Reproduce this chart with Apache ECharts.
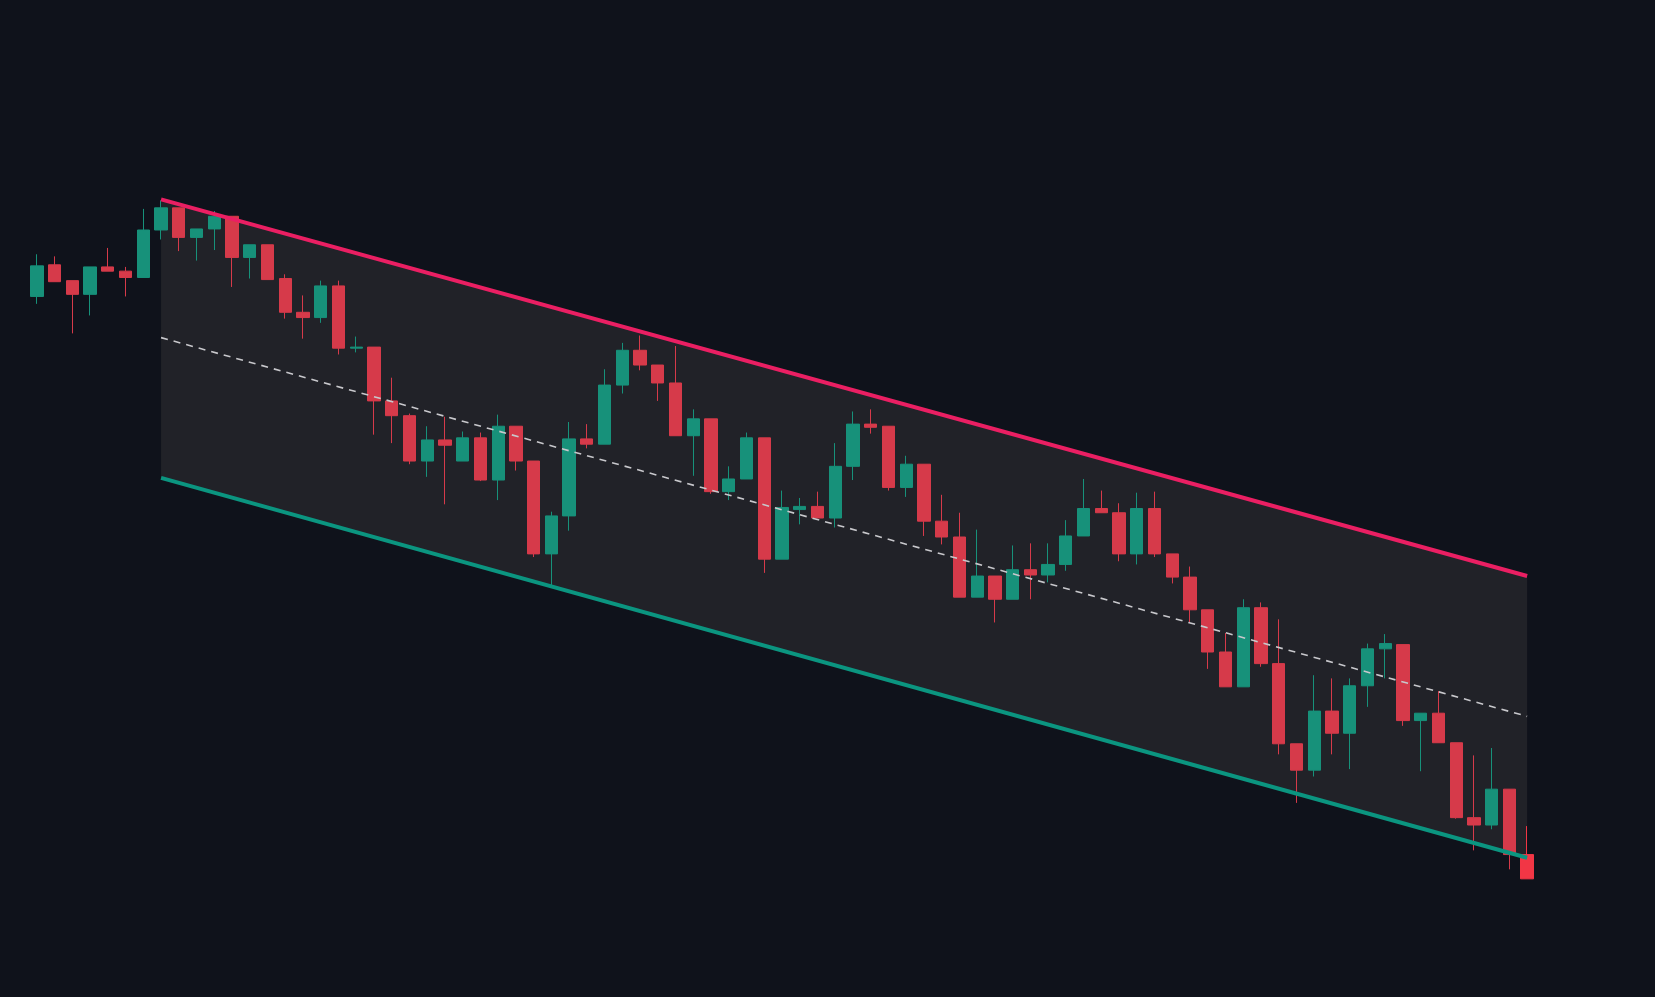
<!DOCTYPE html>
<html><head><meta charset="utf-8">
<script src="https://cdn.jsdelivr.net/npm/echarts@6/dist/echarts.min.js"></script>
<style>html,body{margin:0;background:#0f121b}#c{width:1655px;height:997px}</style>
</head><body><div id="c"></div>
<script>
// Price levels (level = 1000 - pixel row)
const BASE = 1000;
const opensY  = [281,251,266,279,253,257,263,218,197,225,217,205,244,232,264,296,301,271,330,329,380,394,437,417,437,415,455,404,437,525,489,416,421,365,332,346,363,413,397,466,454,415,530,483,480,491,442,402,404,462,440,494,509,566,546,568,540,545,535,508,482,486,525,482,525,547,578,618,651,576,629,705,730,674,695,650,615,611,683,676,704,775,782,748,810];
const closesY = [252,267,279,253,257,263,218,197,225,217,205,244,232,265,296,301,271,330,329,380,394,437,417,422,415,455,404,437,525,489,416,421,365,332,346,363,413,397,466,454,415,530,481,480,491,442,402,405,462,440,494,509,566,546,568,540,545,535,508,482,486,525,482,525,547,578,618,651,576,629,705,730,674,695,650,615,610,683,676,704,775,782,748,810,833];
const highsY  = [241,243,266,253,235,253,198,190,197,217,200,205,232,232,260,280,266,266,319,329,358,392,404,395,409,410,393,404,437,485,400,402,350,325,318,346,328,388,397,442,410,415,465,472,466,420,390,388,404,432,440,469,486,502,546,517,515,515,493,454,465,477,467,466,525,537,578,600,568,571,587,705,640,643,643,610,601,611,676,655,704,716,709,748,783];
const lowsY   = [288,267,316,299,257,281,263,227,238,247,237,272,264,265,302,321,306,336,334,412,420,440,452,478,432,456,474,446,528,555,503,425,421,373,351,380,413,451,468,474,454,543,530,497,491,500,455,411,465,471,508,516,566,566,590,568,568,552,541,508,486,532,535,528,553,590,634,651,651,632,715,761,736,715,729,670,643,688,731,704,776,806,786,824,833];
const channelUpperY = [189, 546];
const channelMidY   = [320, 679];
const channelLowerY = [453, 813];
const startIdx = 7, endIdx = 84;

const n = opensY.length;
const cats = opensY.map((_, i) => String(i));
const candles = opensY.map((o, i) => {
  const d = [BASE - o, BASE - closesY[i], BASE - lowsY[i], BASE - highsY[i]];
  return i === n - 1 ? {value: d, itemStyle: {color0: '#f23645', borderColor0: '#f23645'}} : d;
});
function seg(ys) { const a = new Array(n).fill(null); a[startIdx] = BASE - ys[0]; a[endIdx] = BASE - ys[1]; return a; }
const up = seg(channelUpperY), mid = seg(channelMidY), lo = seg(channelLowerY);

const chart = echarts.init(document.getElementById('c'));
chart.setOption({
  backgroundColor: '#0f121b',
  animation: false,
  grid: {left: 28, right: 119, top: 0, bottom: 0},
  xAxis: {type: 'category', data: cats, show: false, boundaryGap: true},
  yAxis: {type: 'value', min: 55, max: 1000, show: false},
  series: [
    {type: 'custom', z: 1, silent: true,
      data: [[startIdx, endIdx]],
      renderItem: function (params, api) {
        const pts = [
          api.coord([startIdx, BASE - channelUpperY[0]]),
          api.coord([endIdx, BASE - channelUpperY[1]]),
          api.coord([endIdx, BASE - channelLowerY[1]]),
          api.coord([startIdx, BASE - channelLowerY[0]])
        ];
        return {type: 'polygon', shape: {points: pts}, style: {fill: '#212228'}};
      }},
    {type: 'candlestick', data: candles, barWidth: '72%', z: 3,
      itemStyle: {color: '#17917a', color0: '#d63a4a', borderColor: '#17917a', borderColor0: '#d63a4a', borderWidth: 1}},
    {type: 'line', data: mid, connectNulls: true, symbol: 'none', z: 4, lineStyle: {color: '#c8c8cc', width: 1.6, type: [7, 6]}},
    {type: 'line', data: up, connectNulls: true, symbol: 'none', z: 5, lineStyle: {color: '#ea1f63', width: 4}},
    {type: 'line', data: lo, connectNulls: true, symbol: 'none', z: 5, lineStyle: {color: '#0b9580', width: 4}}
  ]
});
</script></body></html>
